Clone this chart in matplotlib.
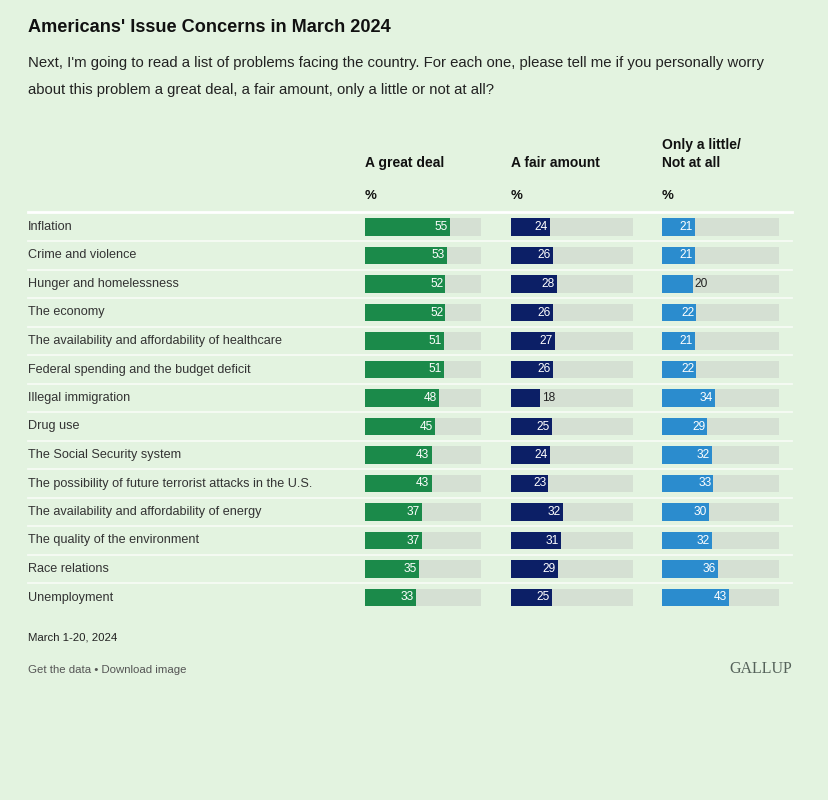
import matplotlib
matplotlib.use("Agg")
import matplotlib.pyplot as plt
from matplotlib.lines import Line2D

# ---------------- data ----------------
issues = [
    "Inflation",
    "Crime and violence",
    "Hunger and homelessness",
    "The economy",
    "The availability and affordability of healthcare",
    "Federal spending and the budget deficit",
    "Illegal immigration",
    "Drug use",
    "The Social Security system",
    "The possibility of future terrorist attacks in the U.S.",
    "The availability and affordability of energy",
    "The quality of the environment",
    "Race relations",
    "Unemployment",
]
great_deal = [55, 53, 52, 52, 51, 51, 48, 45, 43, 43, 37, 37, 35, 33]
fair_amount = [24, 26, 28, 26, 27, 26, 18, 25, 24, 23, 32, 31, 29, 25]
little_none = [21, 21, 20, 22, 21, 22, 34, 29, 32, 33, 30, 32, 36, 43]
column_titles = ["A great deal", "A fair amount", "Only a little/\nNot at all"]

title = "Americans' Issue Concerns in March 2024"
subtitle_1 = ("Next, I'm going to read a list of problems facing the country. "
              "For each one, please tell me if you personally worry")
subtitle_2 = "about this problem a great deal, a fair amount, only a little or not at all?"
date_note = "March 1-20, 2024"
footer = "Get the data \u2022 Download image"
brand = "GALLUP"

# ---------------- style ----------------
BG = "#e3f3e0"
TRACK = "#d5e0d3"
COLORS = ["#1b8a4a", "#0c1f66", "#2b8cce"]
SANS = ["Liberation Sans", "DejaVu Sans"]
SERIF = ["Liberation Serif", "DejaVu Serif"]
TRACK_MAX = 75

W, H = 829, 800
fig = plt.figure(figsize=(W / 100, H / 100), dpi=100, facecolor=BG)

# background axes in pixel coordinates for text and rules
bg = fig.add_axes([0, 0, 1, 1])
bg.set_xlim(0, W)
bg.set_ylim(H, 0)
bg.axis("off")
bg.set_facecolor(BG)

bg.text(28, 28, title, fontsize=13.1, fontweight="bold", family=SANS,
        color="#111111", va="center", ha="left")
bg.text(28, 63, subtitle_1, fontsize=10.75, family=SANS, color="#222222",
        va="center", ha="left")
bg.text(28, 90, subtitle_2, fontsize=10.75, family=SANS, color="#222222",
        va="center", ha="left")

row0 = 227.0
row_step = 28.5
n = len(issues)

col_left = [365, 511, 662]
col_width = [116, 122, 117]

# header texts
for j, t in enumerate(column_titles):
    lines = t.split("\n")
    if len(lines) == 1:
        bg.text(col_left[j], 163, lines[0], fontsize=10, fontweight="bold",
                family=SANS, color="#111111", va="center", ha="left")
    else:
        bg.text(col_left[j], 145, lines[0], fontsize=10, fontweight="bold",
                family=SANS, color="#111111", va="center", ha="left")
        bg.text(col_left[j], 163, lines[1], fontsize=10, fontweight="bold",
                family=SANS, color="#111111", va="center", ha="left")
    bg.text(col_left[j], 196, "%", fontsize=9.5, fontweight="bold",
            family=SANS, color="#111111", va="center", ha="left")

# rules
bg.add_line(Line2D([28, 792], [212, 212], color="white", lw=2.0))
for i in range(n - 1):
    y = row0 + row_step * (i + 0.5)
    bg.add_line(Line2D([28, 792], [y, y], color="#f6fbf5", lw=1.3))

# row labels
for i, lab in enumerate(issues):
    bg.text(28, row0 + row_step * i, lab, fontsize=9.1, family=SANS,
            color="#333333", va="center", ha="left")

# bar axes
top_px = row0 - row_step / 2
bot_px = row0 + row_step * (n - 1) + row_step / 2
series = [great_deal, fair_amount, little_none]
ypos = list(range(n))
for j, vals in enumerate(series):
    ax = fig.add_axes([col_left[j] / W, 1 - bot_px / H,
                       col_width[j] / W, (bot_px - top_px) / H])
    ax.set_xlim(0, TRACK_MAX)
    ax.set_ylim(n - 0.5, -0.5)
    ax.axis("off")
    ax.patch.set_alpha(0)
    ax.barh(ypos, [TRACK_MAX] * n, height=0.63, color=TRACK, left=0)
    ax.barh(ypos, vals, height=0.63, color=COLORS[j], left=0)
    for i, v in enumerate(vals):
        if v <= 20:
            ax.text(v + 0.8, i, str(v), fontsize=8.6, family=SANS,
                    color="#222222", va="center", ha="left")
        else:
            ax.text(v - 1.3, i, str(v), fontsize=8.6, family=SANS,
                    color="white", va="center", ha="right")

# footer
bg.text(28, 637, date_note, fontsize=8.2, family=SANS, color="#222222",
        va="center", ha="left")
bg.text(28, 670, footer, fontsize=8.2, family=SANS, color="#555555",
        va="center", ha="left")
bg.text(792, 669, brand, fontsize=11.5, family=SERIF, color="#55625a",
        va="center", ha="right")

fig.savefig("out.png", dpi=100, facecolor=BG)
